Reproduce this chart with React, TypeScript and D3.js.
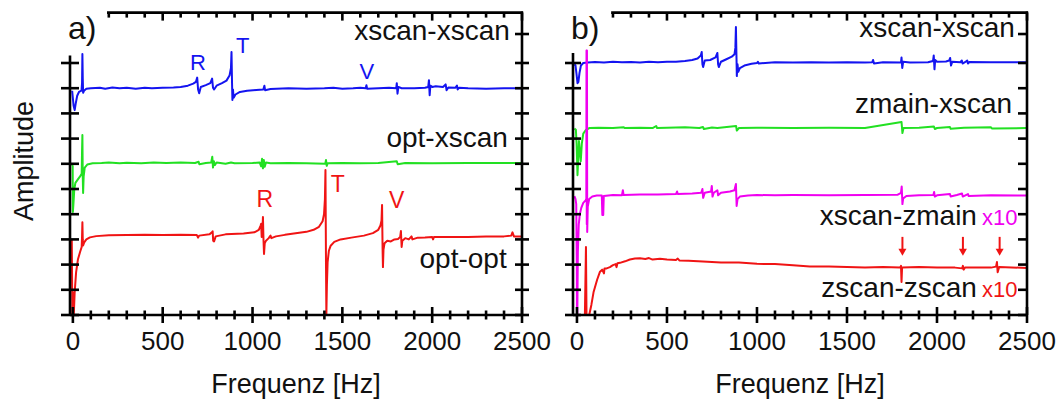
import React from "react";
import * as d3 from "d3";

type P = [number, number];

// ---------- data (Hz, amplitude in tick units) ----------
const blueA: P[] = [
  [-4, 8.9],[0, 8.6],[4, 8.3],[10, 8.13],[16, 8.4],[24, 8.7],[34, 8.85],[48, 8.9],[51, 9.2],[53, 10.36],[55, 9.4],[57, 8.82],[62, 8.9],[75, 8.98],[100, 9.0],[150, 9.02],[180, 8.98],[220, 9.03],[260, 9.0],[300, 9.02],[350, 8.98],[400, 9.02],[440, 9.0],[500, 9.02],[560, 9.03],[600, 9.05],[640, 9.1],[670, 9.18],[685, 9.25],[692, 9.42],[697, 8.95],[703, 8.8],[712, 9.05],[740, 9.12],[765, 9.2],[775, 9.38],[780, 9.02],[786, 8.95],[800, 9.1],[830, 9.2],[855, 9.3],[872, 9.5],[880, 9.8],[883, 10.44],[886, 9.2],[888, 8.53],[891, 8.95],[895, 8.62],[905, 8.75],[930, 8.85],[970, 8.9],[1020, 8.93],[1060, 8.95],[1066, 9.1],[1070, 8.92],[1100, 8.97],[1200, 9.0],[1300, 8.98],[1400, 9.0],[1450, 9.02],[1500, 8.98],[1560, 9.0],[1600, 9.02],[1630, 9.0],[1634, 9.12],[1638, 8.98],[1700, 9.0],[1760, 9.02],[1800, 9.0],[1803, 9.2],[1807, 8.78],[1812, 9.05],[1830, 9.0],[1900, 9.0],[1960, 9.02],[1978, 9.05],[1982, 9.32],[1986, 8.72],[1990, 9.1],[2000, 9.05],[2020, 9.08],[2060, 9.05],[2075, 9.15],[2080, 8.92],[2090, 9.03],[2130, 9.02],[2138, 9.1],[2142, 8.95],[2150, 9.02],[2200, 9.0],[2300, 8.98],[2400, 9.0],[2500, 9.0],
];

const greenA: P[] = [
  [-5, 6.0],[-1, 5.9],[0, 4.09],[3, 4.4],[8, 5.0],[14, 5.24],[25, 5.35],[40, 5.5],[49, 5.6],[51, 6.5],[53, 7.14],[55, 5.5],[57, 4.84],[60, 5.5],[66, 5.85],[80, 5.97],[110, 6.02],[160, 6.03],[200, 6.05],[260, 6.02],[300, 6.04],[380, 6.02],[450, 6.05],[520, 6.03],[600, 6.05],[680, 6.03],[700, 6.08],[704, 5.98],[740, 6.03],[770, 6.05],[776, 6.28],[780, 5.85],[785, 6.1],[790, 5.95],[800, 6.05],[850, 6.0],[880, 6.05],[900, 6.02],[1000, 6.03],[1040, 6.05],[1048, 5.9],[1053, 6.2],[1058, 5.82],[1063, 6.15],[1068, 5.88],[1075, 6.05],[1100, 6.02],[1200, 6.03],[1300, 6.02],[1405, 6.0],[1409, 6.15],[1413, 5.92],[1418, 6.02],[1500, 6.03],[1600, 6.02],[1700, 6.03],[1803, 6.1],[1808, 5.98],[1850, 6.03],[2000, 6.02],[2200, 6.03],[2500, 6.03],
];

const redA: P[] = [
  [-6, 2.98],[-4, 1.0],[-3, 0.0],[0, 0.9],[2, 0.0],[5, 0.0],[10, 0.9],[18, 1.7],[28, 2.2],[40, 2.5],[49, 2.7],[51, 3.1],[53, 3.68],[55, 3.0],[57, 2.76],[63, 2.88],[75, 3.0],[95, 3.08],[130, 3.13],[200, 3.16],[300, 3.17],[400, 3.18],[500, 3.17],[600, 3.18],[690, 3.17],[697, 3.07],[703, 3.15],[760, 3.2],[774, 3.28],[778, 3.32],[781, 2.95],[786, 2.92],[795, 3.12],[850, 3.2],[950, 3.23],[1010, 3.28],[1035, 3.38],[1045, 3.55],[1048, 3.62],[1051, 3.1],[1055, 3.3],[1058, 3.89],[1061, 3.0],[1064, 2.42],[1068, 2.85],[1075, 2.95],[1090, 3.05],[1100, 3.15],[1105, 3.05],[1130, 3.12],[1180, 3.18],[1250, 3.25],[1300, 3.3],[1340, 3.38],[1370, 3.5],[1390, 3.72],[1398, 4.0],[1403, 4.6],[1406, 5.75],[1409, 2.0],[1411, 0.0],[1414, 1.2],[1418, 2.1],[1425, 2.55],[1435, 2.75],[1455, 2.9],[1490, 3.0],[1550, 3.07],[1620, 3.15],[1670, 3.25],[1700, 3.38],[1712, 3.55],[1718, 3.75],[1721, 4.37],[1724, 2.6],[1726, 1.9],[1729, 2.6],[1735, 2.85],[1750, 2.95],[1770, 2.92],[1790, 3.0],[1810, 3.02],[1822, 3.1],[1826, 3.33],[1830, 2.7],[1834, 2.95],[1850, 3.05],[1870, 3.0],[1885, 3.12],[1890, 3.0],[1920, 3.07],[1960, 3.08],[2000, 3.1],[2005, 3.0],[2010, 3.1],[2100, 3.1],[2200, 3.1],[2300, 3.12],[2400, 3.12],[2440, 3.15],[2447, 3.28],[2455, 3.12],[2500, 3.12],
];

const blueB: P[] = [
  [-14, 9.95],[-8, 9.9],[-3, 9.6],[3, 9.2],[8, 9.25],[14, 9.6],[22, 9.9],[35, 10.0],[60, 10.02],[100, 10.04],[150, 10.02],[200, 10.05],[250, 10.03],[300, 10.04],[350, 10.02],[400, 10.05],[450, 10.03],[500, 10.05],[550, 10.05],[600, 10.08],[640, 10.12],[670, 10.18],[688, 10.3],[693, 10.44],[697, 9.95],[701, 9.84],[710, 10.1],[740, 10.12],[770, 10.22],[780, 10.4],[784, 9.95],[788, 9.84],[800, 10.05],[830, 10.15],[860, 10.25],[875, 10.35],[880, 10.6],[883, 11.43],[886, 10.3],[888, 9.48],[892, 9.95],[896, 9.65],[905, 9.8],[930, 9.9],[970, 9.97],[1000, 10.0],[1005, 10.05],[1010, 9.98],[1100, 10.03],[1200, 10.02],[1300, 10.03],[1400, 10.02],[1500, 10.03],[1600, 10.02],[1640, 10.03],[1645, 10.12],[1650, 9.98],[1700, 10.03],[1800, 10.02],[1803, 10.22],[1807, 9.8],[1812, 10.05],[1850, 10.02],[1950, 10.03],[1978, 10.08],[1982, 10.3],[1986, 9.75],[1990, 10.12],[2000, 10.05],[2050, 10.06],[2068, 10.1],[2073, 10.2],[2078, 9.9],[2085, 10.05],[2130, 10.03],[2138, 10.1],[2142, 9.98],[2160, 10.05],[2168, 10.1],[2172, 9.98],[2180, 10.04],[2300, 10.03],[2500, 10.03],
];

const greenB: P[] = [
  [-14, 7.4],[-6, 7.35],[-2, 6.8],[3, 5.55],[7, 6.2],[11, 6.9],[16, 6.5],[21, 6.1],[27, 6.8],[35, 7.2],[50, 7.35],[70, 7.42],[120, 7.43],[200, 7.42],[260, 7.45],[265, 7.42],[350, 7.43],[420, 7.42],[440, 7.5],[445, 7.42],[500, 7.43],[600, 7.45],[680, 7.42],[700, 7.46],[705, 7.38],[750, 7.44],[780, 7.42],[884, 7.5],[888, 7.32],[900, 7.42],[1000, 7.43],[1200, 7.42],[1400, 7.43],[1600, 7.42],[1803, 7.66],[1808, 7.22],[1814, 7.42],[1900, 7.43],[1983, 7.48],[1988, 7.38],[2000, 7.42],[2072, 7.46],[2076, 7.39],[2150, 7.43],[2300, 7.45],[2305, 7.4],[2500, 7.42],
];

const magentaB: P[] = [
  [-14, 4.72],[-8, 4.6],[-4, 4.4],[-1, 2.0],[0, 0.0],[2, 0.0],[5, 2.5],[10, 3.6],[16, 4.0],[24, 4.25],[35, 4.45],[48, 4.55],[52, 4.6],[53, 10.5],[54.5, 3.6],[55.5, 10.5],[57, 3.29],[60, 4.3],[68, 4.6],[85, 4.7],[110, 4.74],[138, 4.74],[141, 3.97],[144, 4.3],[146, 3.97],[149, 4.72],[200, 4.76],[250, 4.75],[255, 4.95],[259, 4.76],[350, 4.78],[450, 4.78],[550, 4.8],[556, 4.9],[560, 4.8],[640, 4.82],[690, 4.85],[697, 5.0],[701, 4.65],[710, 4.85],[745, 4.9],[749, 5.12],[753, 4.7],[760, 4.85],[780, 4.95],[784, 4.75],[800, 4.85],[850, 4.9],[875, 4.95],[883, 5.2],[887, 4.33],[892, 4.6],[905, 4.7],[950, 4.74],[1000, 4.76],[1100, 4.75],[1200, 4.76],[1400, 4.75],[1600, 4.76],[1780, 4.77],[1800, 4.85],[1804, 5.1],[1808, 4.4],[1812, 4.62],[1830, 4.72],[1900, 4.75],[1980, 4.76],[1984, 4.88],[1988, 4.7],[2000, 4.75],[2072, 4.8],[2076, 4.7],[2110, 4.76],[2139, 4.82],[2143, 4.7],[2172, 4.8],[2176, 4.72],[2300, 4.75],[2500, 4.74],
];

const redB: P[] = [
  [44, 0.0],[50, 2.7],[53, 0.0],[68, 0.0],[80, 0.4],[92, 0.9],[100, 1.1],[112, 1.4],[128, 1.72],[140, 1.8],[150, 1.65],[153, 1.85],[165, 1.85],[183, 1.9],[200, 1.98],[215, 2.02],[220, 1.9],[225, 2.05],[239, 2.07],[267, 2.13],[294, 2.2],[322, 2.24],[350, 2.25],[380, 2.22],[400, 2.26],[420, 2.2],[461, 2.23],[500, 2.2],[550, 2.18],[560, 2.24],[570, 2.16],[620, 2.15],[700, 2.12],[800, 2.08],[900, 2.08],[1000, 2.03],[1100, 2.02],[1200, 1.97],[1294, 1.92],[1400, 1.92],[1500, 1.9],[1600, 1.88],[1700, 1.9],[1795, 1.88],[1800, 1.95],[1803, 1.31],[1806, 1.88],[1900, 1.9],[2000, 1.88],[2100, 1.88],[2140, 1.85],[2144, 1.95],[2148, 1.8],[2155, 1.88],[2300, 1.88],[2328, 1.92],[2333, 2.1],[2337, 1.7],[2345, 1.9],[2500, 1.87],
];

const xTicksMajor = [0, 500, 1000, 1500, 2000, 2500];
const xTicksMinor = d3.range(0, 2501, 100);
const topTicks = d3.range(200, 2501, 100);
const leftTicks = d3.range(0, 11, 1);
const rightTicksA = [0, 1, 2, 3, 4, 5, 6, 7, 8, 9, 10, 11.15];
const rightTicksB = [0, 1, 2, 3, 4, 5, 6, 7, 8, 9, 10, 11.15];

// annotations: [text, Hz, amplitude baseline]
const peakLabelsBlueA: [string, number, number][] = [["R", 696, 9.72], ["T", 946, 10.4], ["V", 1636, 9.35]];
const peakLabelsRedA: [string, number, number][] = [["R", 1068, 4.29], ["T", 1475, 4.88], ["V", 1803, 4.25]];
const seriesLabelsA: [string, number, number][] = [["xscan-xscan", 2432, 10.91], ["opt-xscan", 2421, 6.67], ["opt-opt", 2415, 1.87]];
const seriesLabelsB: [string, number, number][] = [["xscan-xscan", 2433, 11.03], ["zmain-xscan", 2417, 8.02], ["xscan-zmain", 2222, 3.57], ["zscan-zscan", 2222, 0.71]];
const x10Labels: [string, number, number][] = [["x10", 2250, 3.57], ["x10", 2250, 0.71]];
const arrowHz = [1808, 2144, 2348];
const arrowTop = 3.1;
const arrowBottom = 2.35;

const BLUE = "#1414f0";
const GREEN = "#22e022";
const RED = "#f01414";
const MAGENTA = "#f000f0";
const FONT = "'Liberation Sans', Arial, Helvetica, sans-serif";

const yS = d3.scaleLinear().domain([0, 12]).range([315, 12.6]);

type PanelProps = {
  x: d3.ScaleLinear<number, number>;
  traces: { data: P[]; color: string }[];
  label: string;
  leftTop: number;
  leftTickLen: number;
  rightTicks: number[];
  rightCross: boolean;
  children?: React.ReactNode;
};

function Panel({ x, traces, label, leftTop, leftTickLen, rightTicks, rightCross, children }: PanelProps) {
  const [x0, x1] = x.range();
  const yb = yS(0);
  const yt = yS(12);
  const line = d3.line<P>().x((d) => x(d[0])).y((d) => yS(d[1]));
  const sw = 2.6;
  return (
    <g>
      {traces.map((t, i) => (
        <path key={i} d={line(t.data) || ""} fill="none" stroke={t.color} strokeWidth={2} strokeLinejoin="round" />
      ))}
      {/* axes */}
      <g stroke="#000" strokeWidth={sw} fill="none">
        <line x1={x0} x2={x1} y1={yb} y2={yb} />
        <line x1={x0} x2={x0} y1={yS(leftTop)} y2={yb} />
        <line x1={x1} x2={x1} y1={yt - 1} y2={yb} />
        <line x1={x(190)} x2={x1 + 1} y1={yt} y2={yt} />
        {xTicksMinor.map((v) => {
          const major = v % 500 === 0;
          return <line key={"b" + v} x1={x(v)} x2={x(v)} y1={yb - (major ? 8 : 4.5)} y2={yb + (major ? 8 : 4.5)} />;
        })}
        {topTicks.map((v) => {
          const major = v % 500 === 0;
          return <line key={"t" + v} x1={x(v)} x2={x(v)} y1={yt} y2={yt + (major ? 8 : 5)} />;
        })}
        {leftTicks.map((v) => (
          <line key={"l" + v} x1={x0 - leftTickLen} x2={x0 + leftTickLen} y1={yS(v)} y2={yS(v)} />
        ))}
        {rightTicks.map((v) => (
          <line key={"r" + v} x1={x1 - (rightCross ? 7 : 9)} x2={x1 + (rightCross ? 7 : 0)} y1={yS(v)} y2={yS(v)} />
        ))}
      </g>
      <g fontFamily={FONT} fontSize={26} fill="#111" textAnchor="middle">
        {xTicksMajor.map((v) => (
          <text key={v} x={x(v)} y={350}>{v}</text>
        ))}
        <text x={(x0 + x1) / 2} y={393} fontSize={27}>Frequenz [Hz]</text>
      </g>
      <text x={x0 - 2} y={39} fontFamily={FONT} fontSize={32} fill="#111">{label}</text>
      {children}
    </g>
  );
}

export default function App() {
  const xa = d3.scaleLinear().domain([-16, 2500]).range([70, 522]);
  const xb = d3.scaleLinear().domain([-22, 2500]).range([573, 1027]);
  return (
    <svg width={1063} height={403} viewBox="0 0 1063 403" style={{ position: "absolute", left: 0, top: 0, background: "#fff" }}>
      <rect width={1063} height={403} fill="#fff" />
      <text transform="translate(33,161) rotate(-90)" textAnchor="middle" fontFamily={FONT} fontSize={27} fill="#111">Amplitude</text>
      <Panel
        x={xa}
        traces={[{ data: blueA, color: BLUE }, { data: greenA, color: GREEN }, { data: redA, color: RED }]}
        label="a)"
        leftTop={10.3}
        leftTickLen={9}
        rightTicks={rightTicksA}
        rightCross={true}
      >
        <g fontFamily={FONT} fontSize={22} textAnchor="middle">
          {peakLabelsBlueA.map(([t, hz, v]) => (
            <text key={"b" + t} x={xa(hz)} y={yS(v)} fill={BLUE}>{t}</text>
          ))}
          {peakLabelsRedA.map(([t, hz, v]) => (
            <text key={"r" + t} x={xa(hz)} y={yS(v)} fill={RED} fontSize={23}>{t}</text>
          ))}
        </g>
        <g fontFamily={FONT} fontSize={28} textAnchor="end" fill="#111">
          {seriesLabelsA.map(([t, hz, v]) => (
            <text key={t} x={xa(hz)} y={yS(v)}>{t}</text>
          ))}
        </g>
      </Panel>
      <Panel
        x={xb}
        traces={[{ data: blueB, color: BLUE }, { data: greenB, color: GREEN }, { data: redB, color: RED }, { data: magentaB, color: MAGENTA }]}
        label="b)"
        leftTop={10.4}
        leftTickLen={8}
        rightTicks={rightTicksB}
        rightCross={false}
      >
        <g fontFamily={FONT} fontSize={28} textAnchor="end" fill="#111">
          {seriesLabelsB.map(([t, hz, v]) => (
            <text key={t + v} x={xb(hz)} y={yS(v)}>{t}</text>
          ))}
        </g>
        <g fontFamily={FONT} fontSize={22} textAnchor="start">
          {x10Labels.map(([t, hz, v], i) => (
            <text key={i} x={xb(hz)} y={yS(v)} fill={i === 0 ? MAGENTA : RED}>{t}</text>
          ))}
        </g>
        <g fill={RED} stroke={RED}>
          {arrowHz.map((hz) => {
            const ax = xb(hz);
            const yTop = yS(arrowTop);
            const yBot = yS(arrowBottom);
            return (
              <g key={hz}>
                <line x1={ax} x2={ax} y1={yTop} y2={yBot - 5} strokeWidth={2} />
                <path d={`M${ax - 4},${yBot - 7} L${ax + 4},${yBot - 7} L${ax},${yBot} Z`} stroke="none" />
              </g>
            );
          })}
        </g>
      </Panel>
    </svg>
  );
}
